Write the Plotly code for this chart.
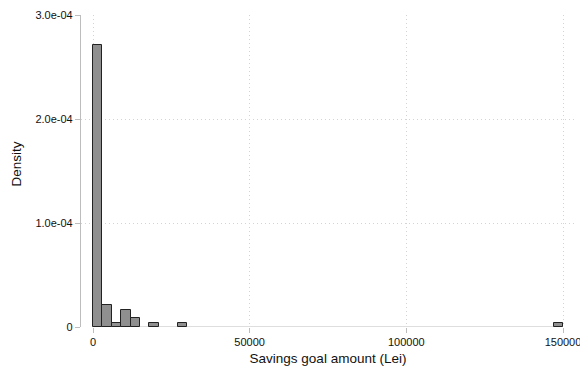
import plotly.graph_objects as go

# Histogram bins (Lei), bin width 3000
bin_start = [0, 3000, 6000, 9000, 12000, 18000, 27000, 147000]
bin_width = 3000
density = [2.708e-4, 2.08e-5, 4.2e-6, 1.67e-5, 8.3e-6, 4.2e-6, 4.2e-6, 4.2e-6]

x_ticks = [0, 50000, 100000, 150000]
x_tick_labels = ["0", "50000", "100000", "150000"]
y_ticks = [0, 1e-4, 2e-4, 3e-4]
y_tick_labels = ["0", "1.0e-04", "2.0e-04", "3.0e-04"]

font_family = "Liberation Sans, Arial, Helvetica, sans-serif"

fig = go.Figure()
fig.add_trace(go.Bar(
    x=[s + bin_width / 2 for s in bin_start],
    y=density,
    width=[bin_width] * len(bin_start),
    marker=dict(color="#8f8f8f", line=dict(color="#222222", width=1)),
    showlegend=False,
))

# x-axis line spanning the data range only (Stata style)
fig.add_shape(type="line", xref="x", yref="y",
              x0=x_ticks[0], x1=x_ticks[-1], y0=0, y1=0,
              line=dict(color="#bdbdbd", width=1.2), layer="below")

# y-axis title placed as in the reference
fig.add_annotation(text="Density", textangle=-90, showarrow=False,
                   xref="paper", yref="paper", x=-0.131, y=0.522,
                   xanchor="center", yanchor="middle",
                   font=dict(size=13.5, color="#111111"))

grid_dash = "1px,3px"

fig.update_layout(
    width=580, height=370,
    margin=dict(l=81, r=5, t=15, b=43),
    paper_bgcolor="white", plot_bgcolor="white",
    font=dict(family=font_family, color="#111111"),
    bargap=0,
    xaxis=dict(
        range=[-3830, 153830],
        tickvals=x_ticks, ticktext=x_tick_labels,
        ticks="outside", ticklen=5, tickcolor="#bdbdbd", tickwidth=1,
        ticklabeloverflow="allow",
        showline=False, zeroline=False,
        showgrid=True, gridcolor="#d4d4d4", griddash=grid_dash, gridwidth=1,
        tickfont=dict(size=11, color="#111111"),
        title=dict(text="Savings goal amount (Lei)", font=dict(size=13.5), standoff=6),
        automargin=False,
    ),
    yaxis=dict(
        range=[0, 3e-4],
        tickvals=y_ticks, ticktext=y_tick_labels,
        ticks="outside", ticklen=5, tickcolor="#bdbdbd", tickwidth=1,
        showline=True, linecolor="#bdbdbd", linewidth=1.2,
        zeroline=False,
        showgrid=True, gridcolor="#d4d4d4", griddash=grid_dash, gridwidth=1,
        tickfont=dict(size=11, color="#111111"),
        automargin=False,
    ),
)

fig.write_html("out.html")
